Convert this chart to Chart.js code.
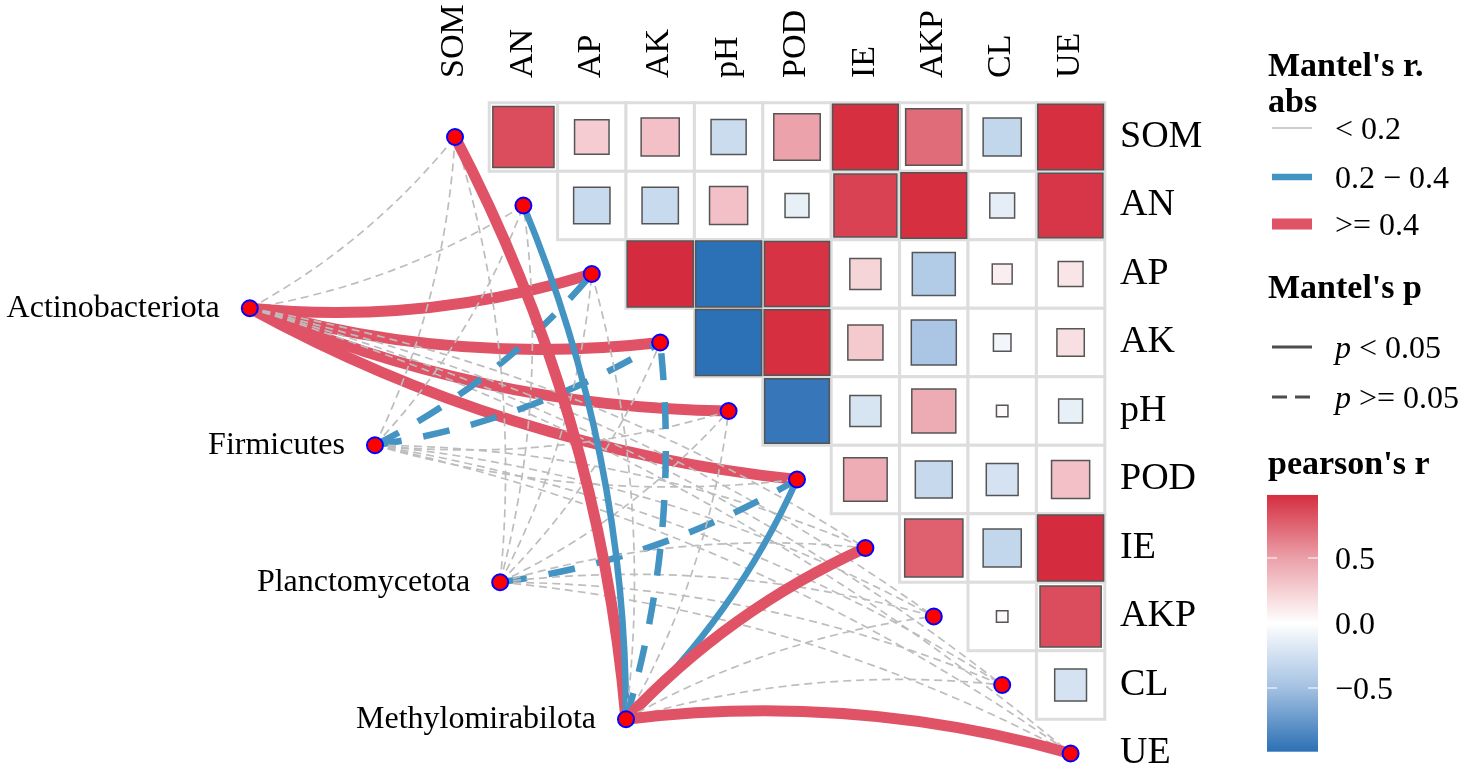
<!DOCTYPE html>
<html lang="en">
<head>
  <meta charset="UTF-8">
  <title>Mantel test</title>
  <script src="https://cdn.jsdelivr.net/npm/chart.js"></script>
  <style>
    html, body { margin: 0; padding: 0; background: #fff; }
    #wrap { width: 1464px; height: 770px; position: relative; }
  </style>
</head>
<body>
  <div id="wrap"><canvas id="chartMantel"></canvas></div>

<script>
  // environment variables (diagonal of the matrix)
  const envVars = ['SOM', 'AN', 'AP', 'AK', 'pH', 'POD', 'IE', 'AKP', 'CL', 'UE'];

  // pearson's r, upper triangle, row i against columns i+1 .. 9
  const pearsonSOM = [0.85, 0.27, 0.33, -0.28, 0.49, 0.98, 0.72, -0.33, 0.98];
  const pearsonAN = [-0.30, -0.30, 0.33, -0.13, 0.90, 0.98, -0.14, 0.95];
  const pearsonAP = [0.99, -0.99, 0.96, 0.22, -0.42, 0.09, 0.14];
  const pearsonAK = [-0.99, 0.98, 0.28, -0.46, -0.07, 0.17];
  const pearsonPH = [-0.95, -0.22, 0.44, 0.03, -0.13];
  const pearsonPOD = [0.43, -0.31, -0.23, 0.33];
  const pearsonIE = [0.77, -0.33, 0.99];
  const pearsonAKP = [0.03, 0.85];
  const pearsonCL = [-0.23];
  const pearsonRows = [pearsonSOM, pearsonAN, pearsonAP, pearsonAK, pearsonPH, pearsonPOD, pearsonIE, pearsonAKP, pearsonCL];

  // species nodes (in cell units)
  const species = ['Actinobacteriota', 'Firmicutes', 'Planctomycetota', 'Methylomirabilota'];
  const speciesX = [-3.0, -1.17, 0.66, 2.5];
  const speciesY = [2.5, 4.5, 6.5, 8.5];

  // Mantel's r class: 0 = < 0.2, 1 = 0.2 - 0.4, 2 = >= 0.4
  const mantelClassActino = [0, 0, 2, 2, 2, 2, 0, 0, 0, 0];
  const mantelClassFirmi = [0, 0, 1, 1, 0, 0, 0, 0, 0, 0];
  const mantelClassPlancto = [0, 0, 0, 0, 0, 1, 0, 0, 0, 0];
  const mantelClassMethylo = [2, 1, 0, 1, 0, 1, 2, 0, 0, 2];
  const mantelClass = [mantelClassActino, mantelClassFirmi, mantelClassPlancto, mantelClassMethylo];

  // Mantel's p: 1 = p < 0.05
  const mantelSigActino = [0, 0, 1, 1, 1, 1, 0, 0, 0, 0];
  const mantelSigFirmi = [0, 0, 0, 0, 0, 0, 0, 0, 0, 0];
  const mantelSigPlancto = [0, 0, 0, 0, 0, 0, 0, 0, 0, 0];
  const mantelSigMethylo = [1, 1, 0, 0, 0, 1, 1, 0, 0, 1];
  const mantelSig = [mantelSigActino, mantelSigFirmi, mantelSigPlancto, mantelSigMethylo];

  const rClassLabels = ['< 0.2', '0.2 \u2212 0.4', '>= 0.4'];
  const barTicks = [0.5, 0.0, -0.5];

  // estilos
  const linkColors = ['#BDBDBD', '#4393C3', '#E05265'];
  const linkWidths = [1.7, 6.5, 11];
  const linkDashes = [[8, 5], [27, 22], [30, 24]];
  const colorStops = [[-1, '#2A6EB4'], [-0.5, '#A3C1E2'], [0, '#FFFFFF'], [0.5, '#EBA0A9'], [1, '#D42A3C']];
  const serif = "'Liberation Serif', 'Times New Roman', serif";

  function hexToRgb(h) {
    return [parseInt(h.slice(1, 3), 16), parseInt(h.slice(3, 5), 16), parseInt(h.slice(5, 7), 16)];
  }

  function colorFor(r) {
    for (let i = 0; i < colorStops.length - 1; i++) {
      const [a, ca] = colorStops[i];
      const [b, cb] = colorStops[i + 1];
      if (r <= b || i === colorStops.length - 2) {
        const t = Math.max(0, Math.min(1, (r - a) / (b - a)));
        const c1 = hexToRgb(ca), c2 = hexToRgb(cb);
        const c = c1.map((v, k) => Math.round(v + (c2[k] - v) * t));
        return 'rgb(' + c.join(',') + ')';
      }
    }
  }

  function cellPx(chart) {
    const s = chart.scales.x;
    return Math.abs(s.getPixelForValue(1) - s.getPixelForValue(0));
  }

  const gridCells = [];
  const heatCells = [];
  pearsonRows.forEach((row, i) => {
    row.forEach((r, k) => {
      gridCells.push({ x: i + 1 + k, y: i });
      heatCells.push({ x: i + 1 + k, y: i, r: r });
    });
  });

  const nodes = envVars.map((_, i) => ({ x: i, y: i }))
    .concat(species.map((_, s) => ({ x: speciesX[s], y: speciesY[s] })));

  // curvas de Mantel
  const linkPlugin = {
    id: 'mantelLinks',
    beforeDatasetDraw(chart, args) {
      if (chart.data.datasets[args.index].label !== 'nodes') return;
      const { ctx } = chart;
      const sx = chart.scales.x, sy = chart.scales.y;
      ctx.save();
      ctx.lineCap = 'butt';
      species.forEach((sp, s) => {
        envVars.forEach((ev, e) => {
          const cls = mantelClass[s][e];
          const x0 = sx.getPixelForValue(speciesX[s]);
          const y0 = sy.getPixelForValue(speciesY[s]);
          const x1 = sx.getPixelForValue(e);
          const y1 = sy.getPixelForValue(e);
          const dx = x1 - x0, dy = y1 - y0;
          const side = e <= 5 ? 1 : -1;
          const cx = (x0 + x1) / 2 - side * 0.1 * dy;
          const cy = (y0 + y1) / 2 + side * 0.1 * dx;
          ctx.beginPath();
          ctx.moveTo(x0, y0);
          ctx.quadraticCurveTo(cx, cy, x1, y1);
          ctx.strokeStyle = linkColors[cls];
          ctx.lineWidth = linkWidths[cls];
          ctx.setLineDash(mantelSig[s][e] ? [] : linkDashes[cls]);
          ctx.stroke();
        });
      });
      ctx.restore();
    },
    afterDatasetsDraw(chart) {
      const { ctx } = chart;
      const sx = chart.scales.x, sy = chart.scales.y;
      ctx.save();
      ctx.font = '32px ' + serif;
      ctx.fillStyle = '#000';
      ctx.textAlign = 'right';
      ctx.textBaseline = 'middle';
      species.forEach((sp, s) => {
        ctx.fillText(sp, sx.getPixelForValue(speciesX[s]) - 30, sy.getPixelForValue(speciesY[s]));
      });
      ctx.restore();
    }
  };

  // legenda
  const legendPlugin = {
    id: 'mantelLegend',
    afterDraw(chart) {
      const { ctx } = chart;
      ctx.save();
      ctx.fillStyle = '#000';
      ctx.textAlign = 'left';
      ctx.textBaseline = 'alphabetic';
      ctx.font = 'bold 34px ' + serif;
      ctx.fillText("Mantel's r.", 1268, 76);
      ctx.fillText('abs', 1268, 112);
      ctx.fillText("Mantel's p", 1268, 298);
      ctx.fillText("pearson's r", 1268, 474);

      const keyY = [128, 177, 224];
      ctx.textBaseline = 'middle';
      ctx.font = '32px ' + serif;
      rClassLabels.forEach((lab, k) => {
        ctx.beginPath();
        ctx.moveTo(1272, keyY[k]);
        ctx.lineTo(1312, keyY[k]);
        ctx.strokeStyle = linkColors[k];
        ctx.lineWidth = linkWidths[k];
        ctx.stroke();
        ctx.fillText(lab, 1335, keyY[k] + 3);
      });

      const pY = [347, 397];
      const pLabels = [' < 0.05', ' >= 0.05'];
      pY.forEach((yy, k) => {
        ctx.beginPath();
        ctx.moveTo(1272, yy);
        ctx.lineTo(1312, yy);
        ctx.strokeStyle = '#4D4D4D';
        ctx.lineWidth = 3;
        ctx.setLineDash(k === 0 ? [] : [15, 8]);
        ctx.stroke();
        ctx.setLineDash([]);
        ctx.font = 'italic 32px ' + serif;
        ctx.fillText('p', 1335, yy + 3);
        const w = ctx.measureText('p').width;
        ctx.font = '32px ' + serif;
        ctx.fillText(pLabels[k], 1335 + w, yy + 3);
      });

      // barra de cor
      const zeroY = 623, perUnit = 130;
      const top = zeroY - 0.985 * perUnit, bottom = zeroY + 0.99 * perUnit;
      const grad = ctx.createLinearGradient(0, top, 0, bottom);
      for (let i = 0; i <= 20; i++) {
        const r = 0.985 - (1.975 * i) / 20;
        grad.addColorStop(i / 20, colorFor(r));
      }
      ctx.fillStyle = grad;
      ctx.fillRect(1267, top, 51, bottom - top);
      ctx.strokeStyle = '#FFFFFF';
      ctx.lineWidth = 1.2;
      ctx.fillStyle = '#000';
      barTicks.forEach(v => {
        const yy = zeroY - v * perUnit;
        ctx.beginPath();
        ctx.moveTo(1267, yy); ctx.lineTo(1277, yy);
        ctx.moveTo(1308, yy); ctx.lineTo(1318, yy);
        ctx.stroke();
        ctx.fillText(v === 0 ? '0.0' : (v < 0 ? '\u2212' : '') + Math.abs(v).toFixed(1), 1335, yy + 3);
      });
      ctx.restore();
    }
  };

  const mantel = document.getElementById('chartMantel');

  new Chart(mantel, {
    type: 'scatter',
    data: {
      datasets: [{
        label: 'grid',
        order: 3,
        data: gridCells,
        pointStyle: 'rect',
        pointRadius: ctx => cellPx(ctx.chart) / Math.SQRT2,
        backgroundColor: '#FFFFFF',
        borderColor: '#DDDDDD',
        borderWidth: 3,
        clip: false
      }, {
        label: "pearson's r",
        order: 2,
        data: heatCells,
        pointStyle: 'rect',
        pointRadius: ctx => ctx.raw ? cellPx(ctx.chart) * 0.97 * Math.sqrt(Math.abs(ctx.raw.r)) / Math.SQRT2 : 0,
        backgroundColor: ctx => ctx.raw ? colorFor(ctx.raw.r) : '#fff',
        borderColor: '#555555',
        borderWidth: 1.5,
        clip: false
      }, {
        label: 'nodes',
        order: 1,
        data: nodes,
        pointStyle: 'circle',
        pointRadius: 8,
        backgroundColor: '#FF0000',
        borderColor: '#0000FF',
        borderWidth: 2,
        clip: false
      }]
    },
    options: {
      responsive: true,
      maintainAspectRatio: false,
      animation: false,
      events: [],
      layout: { padding: 0, autoPadding: false },
      plugins: {
        legend: { display: false },
        tooltip: { enabled: false }
      },
      scales: {
        x: {
          type: 'linear',
          position: 'top',
          min: -6.652,
          max: 9.576,
          bounds: 'data',
          grid: { display: false, drawTicks: false },
          border: { display: false },
          afterBuildTicks: s => { s.ticks = envVars.map((_, i) => ({ value: i })); },
          afterFit: s => { s.height = 95; s.paddingLeft = 0; s.paddingRight = 0; },
          ticks: {
            autoSkip: false,
            minRotation: 90,
            maxRotation: 90,
            padding: 17,
            labelOffset: 40,
            color: '#000',
            font: { family: serif, size: 34 },
            callback: v => envVars[v]
          }
        },
        y: {
          type: 'linear',
          position: 'right',
          reverse: true,
          min: -0.613,
          max: 9.241,
          bounds: 'data',
          grid: { display: false, drawTicks: false },
          border: { display: false },
          afterBuildTicks: s => { s.ticks = envVars.map((_, i) => ({ value: i })); },
          afterFit: s => { s.width = 354; s.paddingTop = 0; s.paddingBottom = 0; },
          ticks: {
            autoSkip: false,
            padding: 10,
            color: '#000',
            font: { family: serif, size: 38 },
            callback: v => envVars[v]
          }
        }
      }
    },
    plugins: [linkPlugin, legendPlugin]
  });
</script>
</body>
</html>
